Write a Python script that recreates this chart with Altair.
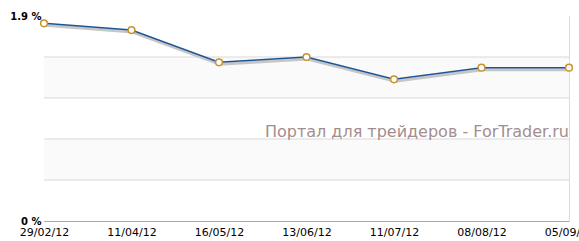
import altair as alt
import pandas as pd

dates = ["29/02/12", "11/04/12", "16/05/12", "13/06/12", "11/07/12", "08/08/12", "05/09/12"]
values = [1.832, 1.770, 1.471, 1.520, 1.313, 1.421, 1.421]
y_max = 1.9
y_labels = [0, 1.9]
n_bands = 5

df = pd.DataFrame({"date": dates, "value": values})
step = y_max / n_bands
bands = pd.DataFrame({
    "y0": [step * i for i in range(n_bands)],
    "y1": [step * (i + 1) for i in range(n_bands)],
    "fill": ["#ffffff", "#fafafa", "#ffffff", "#fafafa", "#ffffff"],
})
grid = pd.DataFrame({"g": [step * i for i in range(1, n_bands)]})

xscale = alt.Scale(type="point", padding=0, domain=dates)
yscale = alt.Scale(domain=[0, y_max], nice=False, zero=True)

band_layer = alt.Chart(bands).mark_rect().encode(
    x=alt.value(0), x2=alt.value(525),
    y=alt.Y("y0:Q", scale=yscale,
            axis=alt.Axis(values=y_labels, title=None, grid=False, ticks=False,
                          domain=True, domainColor="#aaaaaa", labelFont="DejaVu Sans",
                          labelFontWeight="bold", labelFontSize=10, labelColor="#000000",
                          labelPadding=3, labelFlush=False,
                          labelExpr="datum.value + ' %'")),
    y2="y1:Q",
    color=alt.Color("fill:N", scale=None),
)

grid_layer = alt.Chart(grid).mark_rule(color="#d9d9d9", strokeWidth=1).encode(
    y=alt.Y("g:Q", scale=yscale), x=alt.value(0), x2=alt.value(525)
)

watermark = alt.Chart(df.head(1)).mark_text(
    text="Портал для трейдеров - ForTrader.ru", font="DejaVu Sans", fontSize=16,
    color="#a38d8d", align="right", baseline="alphabetic"
).encode(x=alt.value(525), y=alt.value(121))

shadow = alt.Chart(df).mark_line(color="#c6c6c6", strokeWidth=3, xOffset=1, yOffset=2).encode(
    x=alt.X("date:N", scale=xscale, sort=None), y=alt.Y("value:Q", scale=yscale)
)

line = alt.Chart(df).mark_line(color="#1d5597", strokeWidth=1.5).encode(
    x=alt.X("date:N", scale=xscale, sort=None,
            axis=alt.Axis(title=None, labelAngle=0, labelAlign="center", ticks=False,
                          domain=True, domainColor="#aaaaaa", labelFont="DejaVu Sans",
                          labelFontSize=11, labelColor="#000000", labelPadding=5,
                          labelBaseline="top", grid=False,
                          labelOverlap=False, labelBound=False, labelFlush=False)),
    y=alt.Y("value:Q", scale=yscale),
)

points = alt.Chart(df).mark_point(shape="circle", filled=True, fill="#ffffff",
                                   stroke="#c8912c", strokeWidth=1.5, size=45, opacity=1).encode(
    x=alt.X("date:N", scale=xscale, sort=None), y=alt.Y("value:Q", scale=yscale)
)

chart = alt.layer(band_layer, grid_layer, watermark, shadow, line, points).properties(
    width=525, height=205,
    autosize=alt.AutoSizeParams(type="none"),
    padding={"left": 44, "top": 16, "right": 10, "bottom": 20},
).configure_view(stroke="#aaaaaa", strokeWidth=1).configure(background="#ffffff")

chart.save("out.html", embed_options={"renderer": "svg", "actions": False})
